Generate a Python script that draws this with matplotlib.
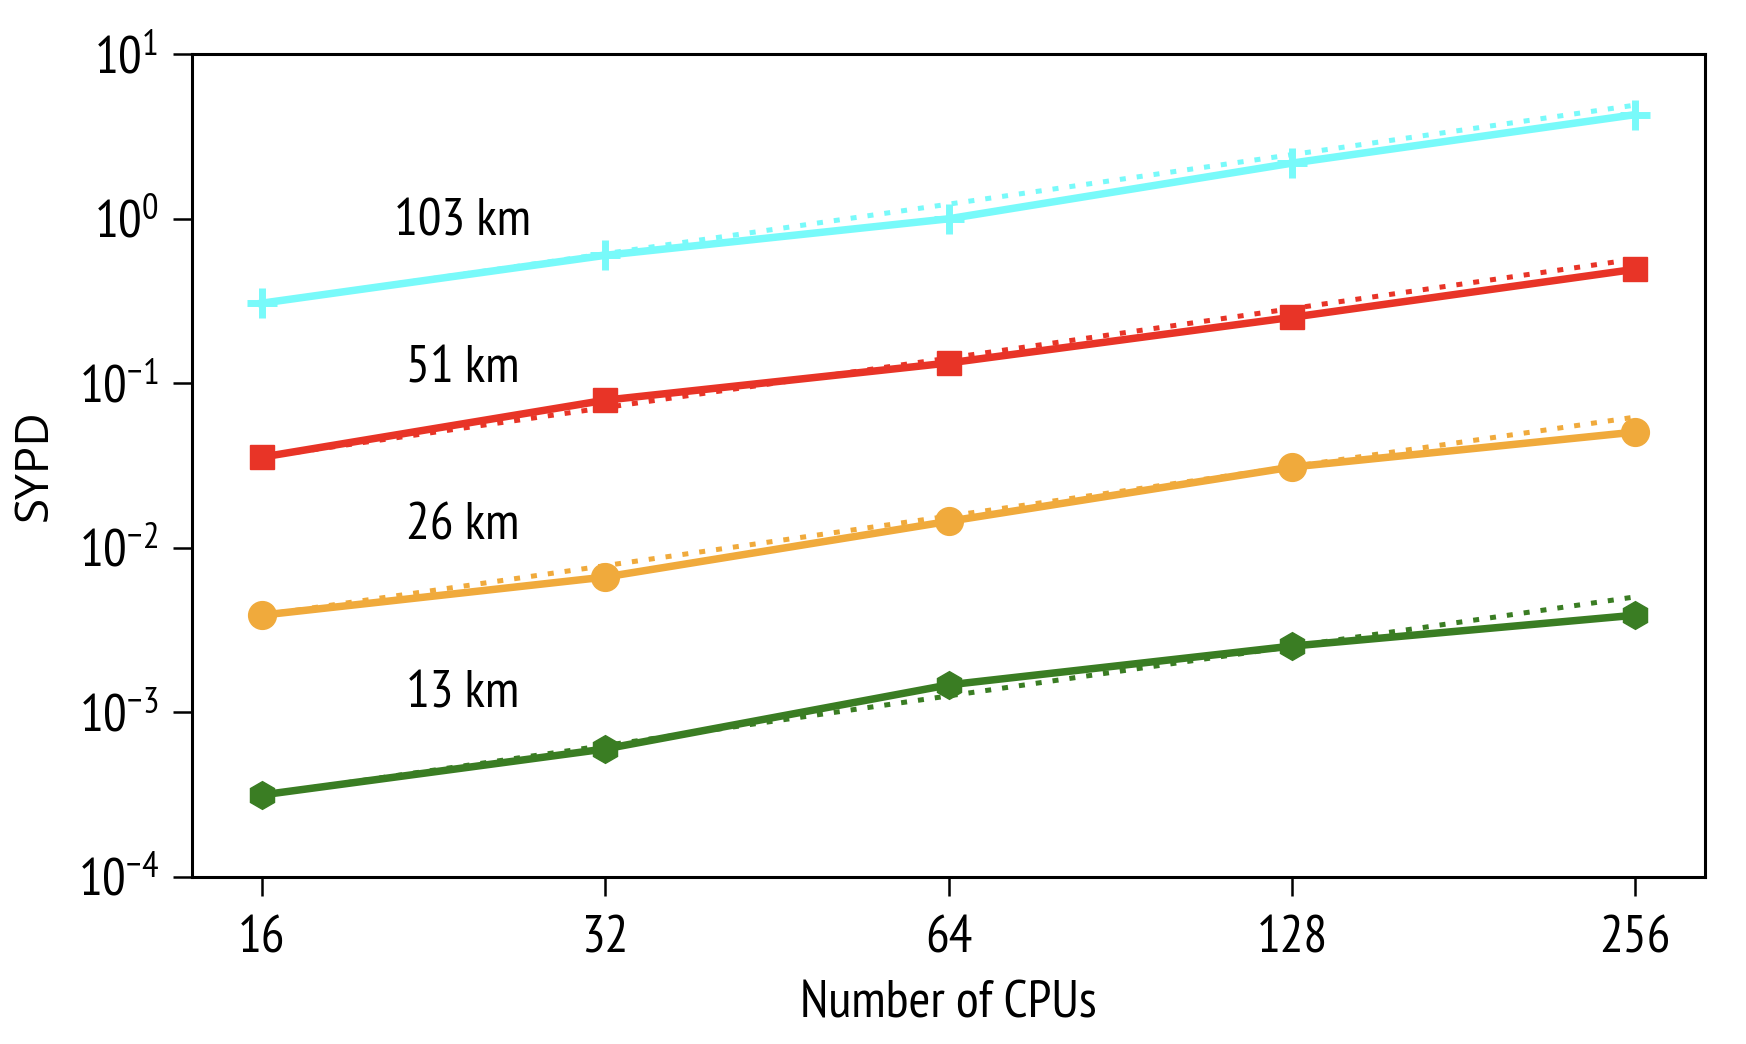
import matplotlib
matplotlib.use("Agg")
import matplotlib.pyplot as plt
from matplotlib import font_manager

# ---- data ----
cpus = [16, 32, 64, 128, 256]
res_labels = ["103 km", "51 km", "26 km", "13 km"]
sypd_103 = [0.307, 0.60, 1.00, 2.18, 4.30]
sypd_51 = [0.0356, 0.079, 0.133, 0.252, 0.494]
sypd_26 = [0.0039, 0.00665, 0.0145, 0.031, 0.0506]
sypd_13 = [0.000315, 0.00060, 0.00147, 0.00253, 0.0039]
label_y = [0.95, 0.122, 0.0135, 0.00128]
label_x = 24
yticks = [1e-4, 1e-3, 1e-2, 1e-1, 1e0, 1e1]
ytick_labels = [r"$10^{-4}$", r"$10^{-3}$", r"$10^{-2}$", r"$10^{-1}$", r"$10^{0}$", r"$10^{1}$"]

series = [sypd_103, sypd_51, sypd_26, sypd_13]
colors = ["#78FAFA", "#E83427", "#F0AA3C", "#3A7D23"]
markers = ["+", "s", "o", "h"]
msizes = [21, 17, 20, 20]

avail = {f.name for f in font_manager.fontManager.ttflist}
fam = "DejaVu Sans"
for cand in ["PT Sans Narrow", "Roboto Condensed", "Fira Sans Condensed",
             "IBM Plex Sans Condensed", "Liberation Sans Narrow", "Liberation Sans"]:
    if cand in avail:
        fam = cand
        break
yfam = "Open Sans" if "Open Sans" in avail else "DejaVu Sans"
plt.rcParams["font.family"] = [fam, "DejaVu Sans"]
plt.rcParams["mathtext.default"] = "regular"

fig = plt.figure(figsize=(17.46, 10.44), dpi=100)
ax = fig.add_axes([0.110, 0.160, 0.8665, 0.788])

for vals, c, m, ms in zip(series, colors, markers, msizes):
    ideal = [vals[0] * n / cpus[0] for n in cpus]
    ax.plot(cpus, ideal, color=c, lw=3.6, linestyle=(0, (1.2, 2.2)), zorder=2)
    if m == "+":
        ax.plot(cpus, vals, color=c, lw=5.4, marker=m, ms=ms, mew=5, zorder=3)
    else:
        ax.plot(cpus, vals, color=c, lw=5.4, marker=m, ms=ms, mec=c, zorder=3)

for lab, yv in zip(res_labels, label_y):
    ax.text(label_x, yv, lab, fontsize=38, ha="center", va="center")

ax.set_xscale("log", base=2)
ax.set_yscale("log")
ax.set_xlim(16 / 1.151, 256 * 1.151)
ax.set_ylim(1e-4, 1e1)
ax.set_xticks(cpus)
ax.set_xticklabels([str(n) for n in cpus])
ax.set_yticks(yticks)
ax.set_yticklabels(ytick_labels)
ax.minorticks_off()
ax.tick_params(axis="both", which="major", labelsize=38, length=14, width=1.8, pad=10)
ax.tick_params(axis="x", pad=14)
for s in ax.spines.values():
    s.set_linewidth(2.2)

ax.set_xlabel("Number of CPUs", fontsize=38, labelpad=12)
ax.set_ylabel("SYPD", fontsize=33, family=yfam, labelpad=14)

fig.savefig("out.png", dpi=100)
